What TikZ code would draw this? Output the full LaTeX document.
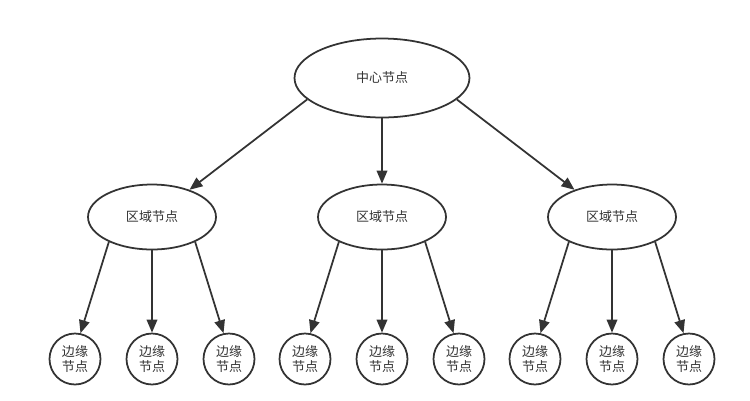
\documentclass[tikz,border=0pt]{standalone}
\usepackage{fontspec}
\setmainfont{Noto Sans CJK SC}
\usepackage{tikz}
\usetikzlibrary{arrows.meta, shapes.geometric}
\definecolor{inkgray}{RGB}{51,51,51}

\begin{document}
\begin{tikzpicture}[x=0.02cm, y=-0.02cm,
    every node/.style={font=\fontsize{7.4pt}{8.8pt}\selectfont, text=inkgray},
    centerbox/.style={draw=inkgray, line width=1pt, ellipse, fill=white, minimum width=3.5cm, minimum height=1.58cm, inner sep=0pt},
    regionbox/.style={draw=inkgray, line width=1pt, ellipse, fill=white, minimum width=2.56cm, minimum height=1.3cm, inner sep=0pt},
    edgebox/.style={draw=inkgray, line width=1pt, circle, fill=white, minimum size=1.02cm, inner sep=0pt, align=center},
    link/.style={draw=inkgray, line width=1pt, -{Triangle[length=7.4pt, width=6pt]}}]
  \useasboundingbox (0,0) rectangle (750,400);

  % top level
  \node[centerbox] (center) at (382, 78) {中心节点};

  % region level
  \node[regionbox] (regionA) at (152, 217) {区域节点};
  \node[regionbox] (regionB) at (382, 217) {区域节点};
  \node[regionbox] (regionC) at (612, 217) {区域节点};

  % edge level
  \node[edgebox] (edgeA1) at (75, 359) {边缘\\节点};
  \node[edgebox] (edgeA2) at (152, 359) {边缘\\节点};
  \node[edgebox] (edgeA3) at (229, 359) {边缘\\节点};
  \node[edgebox] (edgeB1) at (305, 359) {边缘\\节点};
  \node[edgebox] (edgeB2) at (382, 359) {边缘\\节点};
  \node[edgebox] (edgeB3) at (459, 359) {边缘\\节点};
  \node[edgebox] (edgeC1) at (535, 359) {边缘\\节点};
  \node[edgebox] (edgeC2) at (612, 359) {边缘\\节点};
  \node[edgebox] (edgeC3) at (689, 359) {边缘\\节点};

  % links
  \draw[link] (center.196) -- (regionA.36);
  \draw[link] (center.south) -- (regionB.north);
  \draw[link] (center.344) -- (regionC.144);

  \foreach \r in {A,B,C} {
    \draw[link] (region\r.210) -- (edge\r1.78);
    \draw[link] (region\r.south) -- (edge\r2.north);
    \draw[link] (region\r.330) -- (edge\r3.102);
  }
\end{tikzpicture}
\end{document}
